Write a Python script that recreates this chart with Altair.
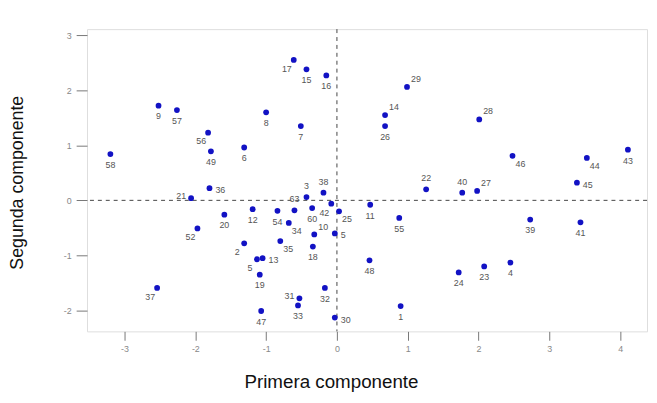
import altair as alt
import pandas as pd

# Point labels, coordinates and label placement
labels = ["1", "2", "3", "4", "5", "5", "6", "7", "8", "9", "10", "11", "12", "13", "14",
          "15", "16", "17", "18", "19", "20", "21", "22", "23", "24", "25", "26", "27",
          "28", "29", "30", "31", "32", "33", "34", "35", "36", "37", "38", "39", "40",
          "41", "42", "43", "44", "45", "46", "47", "48", "49", "52", "54", "55", "56",
          "57", "58", "60", "63"]
pc1 = [0.90, -1.31, -0.43, 2.45, -0.03, -1.13, -1.31, -0.51, -1.00, -2.52, -0.32, 0.47,
       -1.19, -1.05, 0.68, -0.43, -0.15, -0.61, -0.34, -1.09, -1.59, -2.06, 1.26, 2.08,
       1.72, 0.03, 0.68, 1.98, 2.01, 0.99, -0.03, -0.53, -0.17, -0.55, -0.68, -0.80,
       -1.80, -2.54, -0.19, 2.73, 1.77, 3.44, -0.08, 4.11, 3.53, 3.39, 2.48, -1.07,
       0.46, -1.78, -1.97, -0.84, 0.88, -1.82, -2.26, -3.20, -0.35, -0.60]
pc2 = [-1.92, -0.78, 0.06, -1.13, -0.60, -1.07, 0.96, 1.35, 1.60, 1.72, -0.62, -0.08,
       -0.16, -1.05, 1.55, 2.38, 2.27, 2.55, -0.84, -1.35, -0.26, 0.04, 0.20, -1.20,
       -1.31, -0.20, 1.35, 0.17, 1.47, 2.06, -2.13, -1.78, -1.59, -1.91, -0.41, -0.74,
       0.22, -1.59, 0.14, -0.35, 0.14, -0.40, -0.06, 0.92, 0.77, 0.32, 0.81, -2.01,
       -1.09, 0.89, -0.51, -0.19, -0.32, 1.23, 1.64, 0.84, -0.14, -0.18]
place = ["b", "bl", "a", "b", "r", "bl", "b", "b", "b", "b", "ar", "b",
         "b", "r", "ar", "b", "b", "bl", "b", "b", "b", "l", "a", "b",
         "b", "br", "b", "ar", "ar", "ar", "r", "l", "b", "b", "br", "br",
         "r", "bl", "a", "b", "a", "b", "bl", "b", "br", "r", "br", "b",
         "b", "b", "bl", "b", "b", "bl", "b", "b", "b", "a"]

x_ticks = [-3, -2, -1, 0, 1, 2, 3, 4]
y_ticks = [-2, -1, 0, 1, 2, 3]

df = pd.DataFrame({"lab": labels, "pc1": pc1, "pc2": pc2, "pos": place})

W, H = 567, 306
xs = alt.Scale(domain=[-3.53, 4.38], nice=False, zero=False)
ys = alt.Scale(domain=[-2.38, 3.11], nice=False, zero=False)

x_enc = alt.X("pc1:Q", scale=xs, axis=alt.Axis(
    values=x_ticks, title="Primera componente", grid=False, domain=False,
    labelExpr="datum.value + ''",
    tickSize=9, tickColor="#777", labelColor="#888", labelFontSize=9,
    labelPadding=4, labelFont="Liberation Sans",
    titleFont="Liberation Sans", titleFontSize=19, titleFontWeight="normal",
    titleColor="#111", titleX=247, titleY=51, titleAlign="center",
    titleBaseline="middle"))
y_enc = alt.Y("pc2:Q", scale=ys, axis=alt.Axis(
    values=y_ticks, title="Segunda componente", grid=False, domain=False,
    labelExpr="datum.value + ''",
    tickSize=11, tickColor="#777", labelColor="#888", labelFontSize=9,
    labelPadding=5, labelFont="Liberation Sans",
    titleFont="Liberation Sans", titleFontSize=18, titleFontWeight="normal",
    titleColor="#111", titleX=-70, titleY=155, titleAlign="center",
    titleBaseline="middle", titleAngle=-90))

base = alt.Chart(df)

points = base.mark_circle(size=34, color="#1212c4", opacity=1).encode(x=x_enc, y=y_enc)

vline = alt.Chart(pd.DataFrame({"v": [0]})).mark_rule(
    color="#444", strokeDash=[4, 4], strokeWidth=1).encode(
    x=alt.X("v:Q", scale=xs))
hline = alt.Chart(pd.DataFrame({"v": [0]})).mark_rule(
    color="#444", strokeDash=[4, 4], strokeWidth=1).encode(
    y=alt.Y("v:Q", scale=ys))

offsets = {
    "b": (0, 11, "center"),
    "a": (0, -11, "center"),
    "r": (6, 2, "left"),
    "l": (-5, -2, "right"),
    "bl": (-7, 9, "center"),
    "br": (8, 8, "center"),
    "ar": (4, -8, "left"),
}
text_layers = []
for key, (dx, dy, al) in offsets.items():
    text_layers.append(
        base.transform_filter(alt.datum.pos == key).mark_text(
            dx=dx, dy=dy, align=al, baseline="middle", fontSize=9,
            font="Liberation Sans", color="#555").encode(
            x=alt.X("pc1:Q", scale=xs), y=alt.Y("pc2:Q", scale=ys), text="lab:N"))

chart = alt.layer(vline, hline, *text_layers, points).properties(
    width=W, height=H,
    autosize=alt.AutoSizeParams(type="none"),
    padding={"left": 80, "top": 19, "right": 2, "bottom": 60},
).configure_view(stroke="#777", strokeWidth=1.5).configure(background="white")

chart.save("out.html", embed_options={"renderer": "svg", "actions": False})
